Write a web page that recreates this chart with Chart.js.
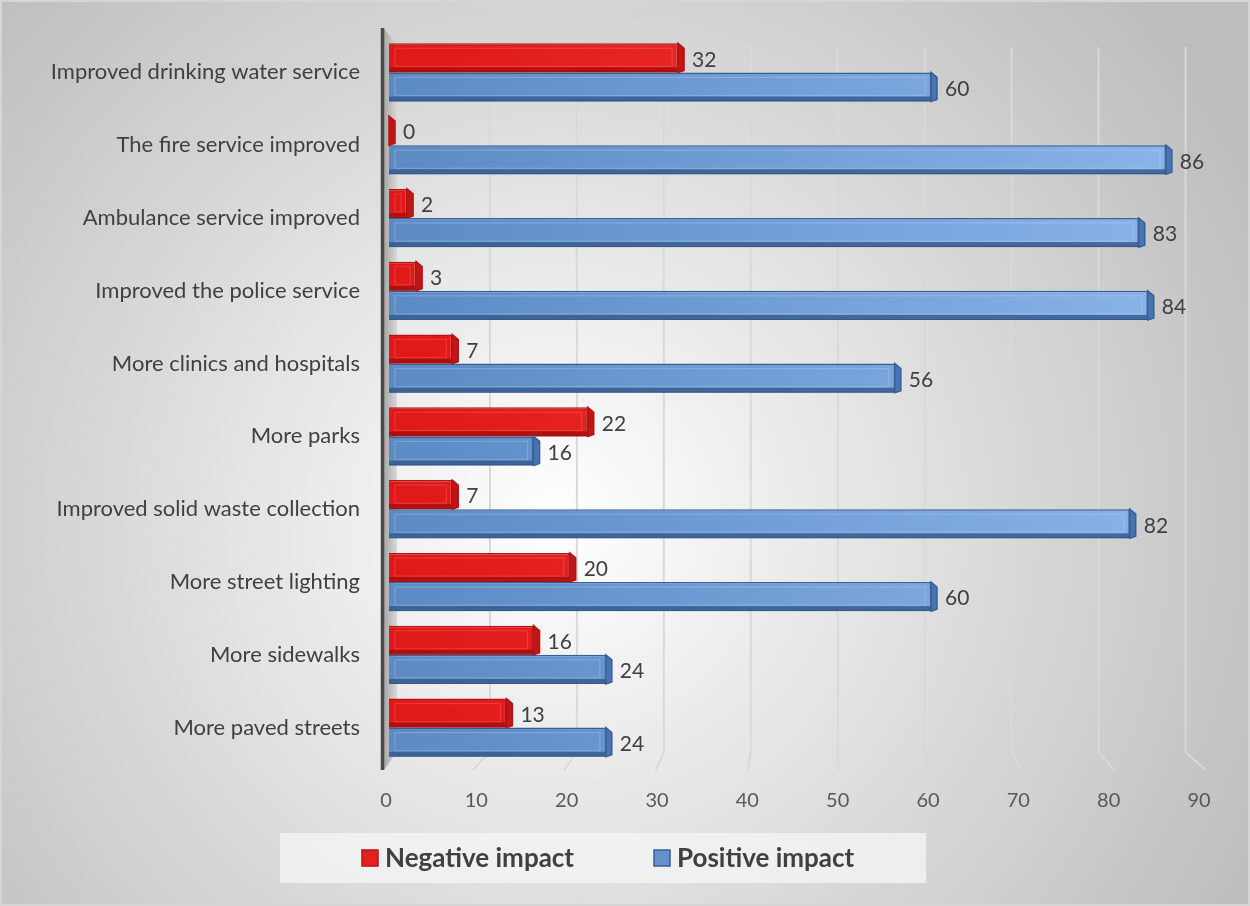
<!DOCTYPE html>
<html>
<head>
<meta charset="utf-8">
<script src="https://cdn.jsdelivr.net/npm/chart.js@4.4.1/dist/chart.umd.min.js"></script>
<style>
  html, body { margin: 0; padding: 0; background: #ffffff; }
  #wrap { width: 1250px; height: 906px; }
</style>
</head>
<body>
<div id="wrap"><canvas id="impactChart" width="1250" height="906"></canvas></div>
<script>
var categories = [
    "Improved drinking water service",
    "The fire service improved",
    "Ambulance service improved",
    "Improved the police service",
    "More clinics and hospitals",
    "More parks",
    "Improved solid waste collection",
    "More street lighting",
    "More sidewalks",
    "More paved streets"
];
var negativeImpact = [32, 0, 2, 3, 7, 22, 7, 20, 16, 13];
var positiveImpact = [60, 86, 83, 84, 56, 16, 82, 60, 24, 24];
var seriesNames = ["Negative impact", "Positive impact"];
var axisMin = 0, axisMax = 90, axisStep = 10;

var FONT = "Lato, 'Open Sans', sans-serif";

// colours for the two series: front face gradient, border, shaded faces
var looks = [
    { left: "#df1818", right: "#f83c3c", border: "#b31414", bottom: "#a10e0e", cap: "#c21515", bevel: "rgba(255,150,150,0.25)", key: "#e42020" },
    { left: "#5c8ac4", right: "#8bb5ea", border: "#36609a", bottom: "#34588a", cap: "#4875b2", bevel: "rgba(190,215,245,0.3)", key: "#6590cc" }
];

function frontFill(i) {
    return function(context) {
        var a = context.chart.chartArea;
        if (!a) return looks[i].left;
        var g = context.chart.ctx.createLinearGradient(a.left, 0, a.right, 0);
        g.addColorStop(0, looks[i].left);
        g.addColorStop(1, looks[i].right);
        return g;
    };
}

// background, legend box, 3d back wall gridlines and left wall
var backdrop = {
    id: "backdrop",
    beforeDraw: function(chart) {
        var c = chart.ctx;
        c.save();
        var g = c.createRadialGradient(560, 520, 0, 560, 520, 780);
        g.addColorStop(0, "#ffffff");
        g.addColorStop(1, "#bdbdbd");
        c.fillStyle = g;
        c.fillRect(0, 0, chart.width, chart.height);
        c.strokeStyle = "#d6d6d6";
        c.lineWidth = 2;
        c.strokeRect(1, 1, chart.width - 2, chart.height - 2);
        c.fillStyle = "rgba(246,246,246,0.75)";
        c.fillRect(280, 833, 646, 50);
        c.restore();
    },
    beforeDatasetsDraw: function(chart) {
        var c = chart.ctx, x = chart.scales.x, area = chart.chartArea;
        var x0 = x.getPixelForValue(axisMin);
        c.save();
        c.strokeStyle = "#d9d9d9";
        c.lineWidth = 2;
        x.ticks.forEach(function(t) {
            if (t.value === axisMin) return;
            var d = x.getPixelForValue(t.value) - x0;
            var back = x0 + 14 + d * 0.9625;
            var front = x0 - 8 + d * 1.0144;
            c.beginPath();
            c.moveTo(back, area.top + 11);
            c.lineTo(back, area.bottom - 12);
            c.lineTo(front, area.bottom + 6);
            c.stroke();
        });
        // side wall
        var wg = c.createLinearGradient(x0 - 5, 0, x0 + 8, 0);
        wg.addColorStop(0, "#a8a8a8");
        wg.addColorStop(1, "#d8d8d8");
        c.fillStyle = wg;
        c.beginPath();
        c.moveTo(x0 - 5, area.top - 7);
        c.lineTo(x0 + 8, area.top + 8);
        c.lineTo(x0 + 8, area.bottom - 12);
        c.lineTo(x0 - 5, area.bottom + 6);
        c.closePath();
        c.fill();
        // axis line
        c.strokeStyle = "#4a4a4a";
        c.lineWidth = 3.5;
        c.beginPath();
        c.moveTo(x0 - 6.5, area.top - 8);
        c.lineTo(x0 - 6.5, area.bottom + 6);
        c.stroke();
        c.restore();
    },
    afterDatasetsDraw: function(chart) {
        var c = chart.ctx;
        c.save();
        chart.data.datasets.forEach(function(ds, i) {
            var lk = looks[i];
            chart.getDatasetMeta(i).data.forEach(function(bar, j) {
                var x0 = bar.base, x1 = bar.x;
                var yt = bar.y - bar.height / 2, yb = bar.y + bar.height / 2;
                // bottom face
                c.fillStyle = lk.bottom;
                c.globalAlpha = 0.8;
                c.fillRect(x0, yb - 5, x1 - x0, 5);
                c.globalAlpha = 1;
                // bevel highlight
                if (x1 - x0 > 12) {
                    c.strokeStyle = lk.bevel;
                    c.lineWidth = 1.2;
                    c.strokeRect(x0 + 6, yt + 5, x1 - x0 - 12, yb - yt - 11);
                }
                // end cap
                c.fillStyle = lk.cap;
                c.beginPath();
                c.moveTo(x1, yt);
                c.lineTo(x1 + 6, yt + 5);
                c.lineTo(x1 + 6, yb - 2);
                c.lineTo(x1, yb);
                c.closePath();
                c.fill();
                c.strokeStyle = lk.border;
                c.lineWidth = 1.5;
                c.stroke();
                // value label
                c.fillStyle = "#404040";
                c.font = "21px " + FONT;
                c.textAlign = "left";
                c.textBaseline = "middle";
                c.fillText(String(ds.data[j]), x1 + 14, bar.y + 2);
            });
        });
        c.restore();
    },
    afterDraw: function(chart) {
        var c = chart.ctx;
        var keyX = [362, 654];
        c.save();
        c.font = "bold 26px " + FONT;
        c.textBaseline = "middle";
        c.textAlign = "left";
        chart.data.datasets.forEach(function(ds, i) {
            c.fillStyle = looks[i].key;
            c.fillRect(keyX[i], 850, 16, 16);
            c.strokeStyle = looks[i].border;
            c.lineWidth = 1.5;
            c.strokeRect(keyX[i], 850, 16, 16);
            c.fillStyle = "#404040";
            c.fillText(ds.label, keyX[i] + 23, 859);
        });
        c.restore();
    }
};

var ctx = document.getElementById("impactChart").getContext("2d");
var chart = new Chart(ctx, {
    // horizontal bars
    type: "bar",
    data: {
        labels: categories,
        datasets: [{
            label: seriesNames[0],
            data: negativeImpact,
            backgroundColor: frontFill(0),
            borderColor: looks[0].border,
            borderWidth: 1.5
        }, {
            label: seriesNames[1],
            data: positiveImpact,
            backgroundColor: frontFill(1),
            borderColor: looks[1].border,
            borderWidth: 1.5
        }]
    },
    options: {
        indexAxis: "y",
        responsive: false,
        animation: false,
        events: [],
        categoryPercentage: 0.8,
        barPercentage: 1.0,
        layout: { padding: { top: 36, right: 48, bottom: 82, left: 0 } },
        plugins: {
            legend: { display: false },
            tooltip: { enabled: false }
        },
        scales: {
            x: {
                min: axisMin,
                max: axisMax,
                ticks: { stepSize: axisStep, color: "#595959", font: { family: FONT, size: 20 }, padding: 25, labelOffset: -3 },
                grid: { display: false, drawTicks: false },
                border: { display: false },
                afterFit: function(scale) { scale.height = 60; }
            },
            y: {
                ticks: { color: "#404040", font: { family: FONT, size: 22 }, padding: 29 },
                grid: { display: false, drawTicks: false },
                border: { display: false },
                afterFit: function(scale) {
                    scale.width = 389;
                    scale.paddingTop = 0;
                    scale.paddingBottom = 0;
                }
            }
        }
    },
    plugins: [backdrop]
});
</script>
</body>
</html>
